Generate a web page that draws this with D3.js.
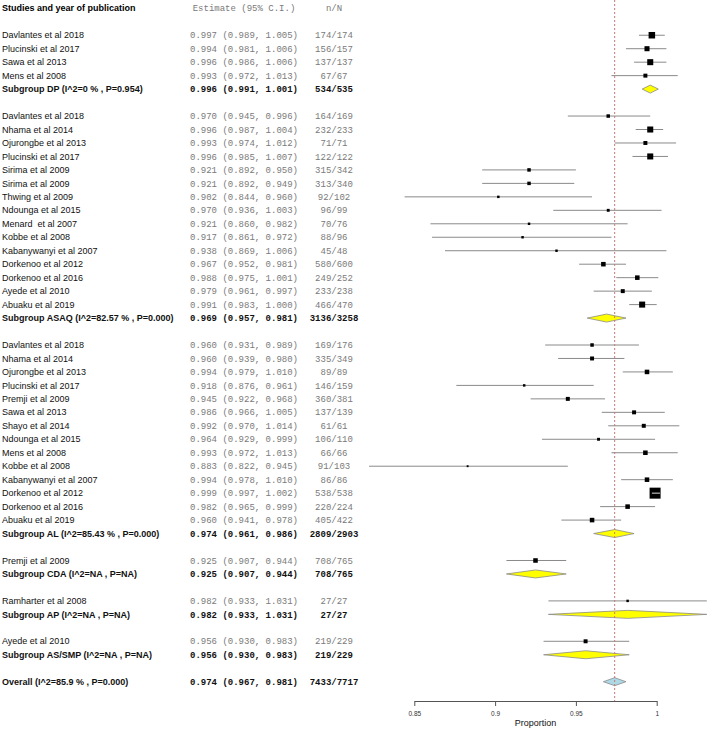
<!DOCTYPE html>
<html>
<head>
<meta charset="utf-8">
<script src="https://cdn.jsdelivr.net/npm/d3@7"></script>
<style>
  body { margin: 0; background: #fff; }
  svg { display: block; }
</style>
</head>
<body>
<div class="forest"></div>
<script>
// study level data, one entry per row, in the order drawn
var studies = [
  "Davlantes et al 2018", "Plucinski et al 2017", "Sawa et al 2013", "Mens et al 2008",
  "Davlantes et al 2018", "Nhama et al 2014", "Ojurongbe et al 2013", "Plucinski et al 2017",
  "Sirima et al 2009", "Sirima et al 2009", "Thwing et al 2009", "Ndounga et al 2015",
  "Menard  et al 2007", "Kobbe et al 2008", "Kabanywanyi et al 2007", "Dorkenoo et al 2012",
  "Dorkenoo et al 2016", "Ayede et al 2010", "Abuaku et al 2019",
  "Davlantes et al 2018", "Nhama et al 2014", "Ojurongbe et al 2013", "Plucinski et al 2017",
  "Premji et al 2009", "Sawa et al 2013", "Shayo et al 2014", "Ndounga et al 2015",
  "Mens et al 2008", "Kobbe et al 2008", "Kabanywanyi et al 2007", "Dorkenoo et al 2012",
  "Dorkenoo et al 2016", "Abuaku et al 2019",
  "Premji et al 2009",
  "Ramharter et al 2008",
  "Ayede et al 2010"
];
var group = [
  "DP", "DP", "DP", "DP",
  "ASAQ", "ASAQ", "ASAQ", "ASAQ", "ASAQ", "ASAQ", "ASAQ", "ASAQ", "ASAQ", "ASAQ", "ASAQ", "ASAQ", "ASAQ", "ASAQ", "ASAQ",
  "AL", "AL", "AL", "AL", "AL", "AL", "AL", "AL", "AL", "AL", "AL", "AL", "AL", "AL",
  "CDA", "AP", "AS/SMP"
];
var est = [0.997, 0.994, 0.996, 0.993,
  0.970, 0.996, 0.993, 0.996, 0.921, 0.921, 0.902, 0.970, 0.921, 0.917, 0.938, 0.967, 0.988, 0.979, 0.991,
  0.960, 0.960, 0.994, 0.918, 0.945, 0.986, 0.992, 0.964, 0.993, 0.883, 0.994, 0.999, 0.982, 0.960,
  0.925, 0.982, 0.956];
var lower = [0.989, 0.981, 0.986, 0.972,
  0.945, 0.987, 0.974, 0.985, 0.892, 0.892, 0.844, 0.936, 0.860, 0.861, 0.869, 0.952, 0.975, 0.961, 0.983,
  0.931, 0.939, 0.979, 0.876, 0.922, 0.966, 0.970, 0.929, 0.972, 0.822, 0.978, 0.997, 0.965, 0.941,
  0.907, 0.933, 0.930];
var upper = [1.005, 1.006, 1.006, 1.013,
  0.996, 1.004, 1.012, 1.007, 0.950, 0.949, 0.960, 1.003, 0.982, 0.972, 1.006, 0.981, 1.001, 0.997, 1.000,
  0.989, 0.980, 1.010, 0.961, 0.968, 1.005, 1.014, 0.999, 1.013, 0.945, 1.010, 1.002, 0.999, 0.978,
  0.944, 1.031, 0.983];
var events = [174, 156, 137, 67,
  164, 232, 71, 122, 315, 313, 92, 96, 70, 88, 45, 580, 249, 233, 466,
  169, 335, 89, 146, 360, 137, 61, 106, 66, 91, 86, 538, 220, 405,
  708, 27, 219];
var total = [174, 157, 137, 67,
  169, 233, 71, 122, 342, 340, 102, 99, 76, 96, 48, 600, 252, 238, 470,
  176, 349, 89, 159, 381, 139, 61, 110, 66, 103, 86, 538, 224, 422,
  765, 27, 229];
// relative weights
var weight = [35, 21, 30, 13,
  10, 30, 13, 30, 10, 10, 5, 7, 5, 5, 5, 17, 17, 13, 30,
  10, 13, 17, 5, 13, 13, 13, 7, 17, 3, 17, 100, 17, 17,
  17, 5, 13];

// subgroup summaries
var groups = ["DP", "ASAQ", "AL", "CDA", "AP", "AS/SMP"];
var groupHet = ["I^2=0 % , P=0.954", "I^2=82.57 % , P=0.000", "I^2=85.43 % , P=0.000",
  "I^2=NA , P=NA", "I^2=NA , P=NA", "I^2=NA , P=NA"];
var groupEst = [0.996, 0.969, 0.974, 0.925, 0.982, 0.956];
var groupLower = [0.991, 0.957, 0.961, 0.907, 0.933, 0.930];
var groupUpper = [1.001, 0.981, 0.986, 0.944, 1.031, 0.983];
var groupEvents = [534, 3136, 2809, 708, 27, 219];
var groupTotal = [535, 3258, 2903, 765, 27, 229];

// overall
var overallLabel = "Overall (I^2=85.9 % , P=0.000)";
var overall = [0.974, 0.967, 0.981];
var overallN = [7433, 7717];

var ticks = [0.85, 0.9, 0.95, 1];

var sans = "'Liberation Sans', Arial, sans-serif",
    mono = "'Liberation Mono', 'Courier New', monospace";

var f3 = d3.format(".3f");
function ci(e, l, u) { return f3(e) + " (" + f3(l) + ", " + f3(u) + ")"; }

// build the row list: header, blank, studies, subgroup, blank, ...
var rows = [], k = 2;
groups.forEach(function(g, gi) {
  studies.forEach(function(s, i) {
    if (group[i] !== g) return;
    rows.push({type: "study", row: k++, label: s, e: est[i], l: lower[i], u: upper[i],
      nN: events[i] + "/" + total[i], w: weight[i]});
  });
  rows.push({type: "sub", row: k++, label: "Subgroup " + g + " (" + groupHet[gi] + ")",
    e: groupEst[gi], l: groupLower[gi], u: groupUpper[gi],
    nN: groupEvents[gi] + "/" + groupTotal[gi]});
  k++;
});
rows.push({type: "overall", row: k, label: overallLabel, e: overall[0], l: overall[1], u: overall[2],
  nN: overallN[0] + "/" + overallN[1]});

var svg = d3.select(".forest").append("svg")
    .attr("width", 709)
    .attr("height", 730)
    .style("background", "#fff");

var y = d3.scaleLinear().domain([0, 50]).range([8.3, 681.7]);
var x = d3.scaleLinear().domain([0.85, 1]).range([414.3, 656.7]);
var box = d3.scaleSqrt().domain([0, 100]).range([0, 11]);

// header
svg.append("text")
    .attr("x", 2).attr("y", y(0)).attr("dy", "0.35em")
    .style("font", "bold 9px " + sans)
    .text("Studies and year of publication");
svg.append("text")
    .attr("x", 244).attr("y", y(0)).attr("dy", "0.35em")
    .attr("text-anchor", "middle")
    .style("font", "9px " + mono).style("fill", "#7a7a7a")
    .text("Estimate (95% C.I.)");
svg.append("text")
    .attr("x", 334).attr("y", y(0)).attr("dy", "0.35em")
    .attr("text-anchor", "middle")
    .style("font", "9px " + mono).style("fill", "#7a7a7a")
    .text("n/N");

// text columns
var row = svg.selectAll("g.row")
    .data(rows)
  .enter().append("g")
    .attr("class", "row")
    .attr("transform", function(d) { return "translate(0," + y(d.row) + ")"; });

row.append("text")
    .attr("x", 2).attr("dy", "0.35em")
    .style("font", function(d) { return (d.type === "study" ? "" : "bold ") + "9px " + sans; })
    .style("white-space", "pre")
    .style("fill", "#111")
    .text(function(d) { return d.label; });

row.append("text")
    .attr("x", 244).attr("dy", "0.35em")
    .attr("text-anchor", "middle")
    .style("font", function(d) { return (d.type === "study" ? "" : "bold ") + "9px " + mono; })
    .style("fill", function(d) { return d.type === "study" ? "#7a7a7a" : "#111"; })
    .text(function(d) { return ci(d.e, d.l, d.u); });

row.append("text")
    .attr("x", 334).attr("dy", "0.35em")
    .attr("text-anchor", "middle")
    .style("font", function(d) { return (d.type === "study" ? "" : "bold ") + "9px " + mono; })
    .style("fill", function(d) { return d.type === "study" ? "#7a7a7a" : "#111"; })
    .text(function(d) { return d.nN; });

// reference line at the overall estimate
svg.append("line")
    .attr("x1", x(overall[0])).attr("x2", x(overall[0]))
    .attr("y1", 0).attr("y2", 701)
    .style("stroke", "#c47a72")
    .style("stroke-width", 1)
    .style("stroke-dasharray", "2,2");

// study CIs and boxes
var st = row.filter(function(d) { return d.type === "study"; });

st.append("line")
    .attr("x1", function(d) { return x(d.l); })
    .attr("x2", function(d) { return x(d.u); })
    .style("stroke", "#8a8a8a")
    .style("stroke-width", 1);

st.append("rect")
    .attr("x", function(d) { return x(d.e) - box(d.w) / 2; })
    .attr("y", function(d) { return -box(d.w) / 2; })
    .attr("width", function(d) { return box(d.w); })
    .attr("height", function(d) { return box(d.w); })
    .style("fill", "#000");

// CI narrower than its box: draw it light on top
st.filter(function(d) { return x(d.u) - x(d.l) < box(d.w); })
  .append("line")
    .attr("x1", function(d) { return x(d.l); })
    .attr("x2", function(d) { return x(d.u); })
    .style("stroke", "#ddd")
    .style("stroke-width", 1);

// diamonds for subgroups and overall
row.filter(function(d) { return d.type !== "study"; })
  .append("path")
    .attr("d", function(d) {
      return "M" + x(d.l) + ",0L" + x(d.e) + ",-4L" + x(d.u) + ",0L" + x(d.e) + ",4Z";
    })
    .style("fill", function(d) { return d.type === "sub" ? "#ffff00" : "#add8e6"; })
    .style("stroke", "#8a8a8a")
    .style("stroke-width", 0.8);

// axis
var axis = svg.append("g")
    .attr("transform", "translate(0,701)")
    .call(d3.axisBottom(x).tickValues(ticks).tickSize(5).tickSizeOuter(0).tickPadding(5)
      .tickFormat(d3.format("")));

axis.select(".domain").style("stroke", "#555");
axis.selectAll(".tick line").style("stroke", "#555");
axis.selectAll(".tick text")
    .style("font", "6.5px " + sans)
    .style("fill", "#333");

svg.append("text")
    .attr("x", x(0.925)).attr("y", 726)
    .attr("text-anchor", "middle")
    .style("font", "9px " + sans)
    .style("fill", "#111")
    .text("Proportion");
</script>
</body>
</html>
